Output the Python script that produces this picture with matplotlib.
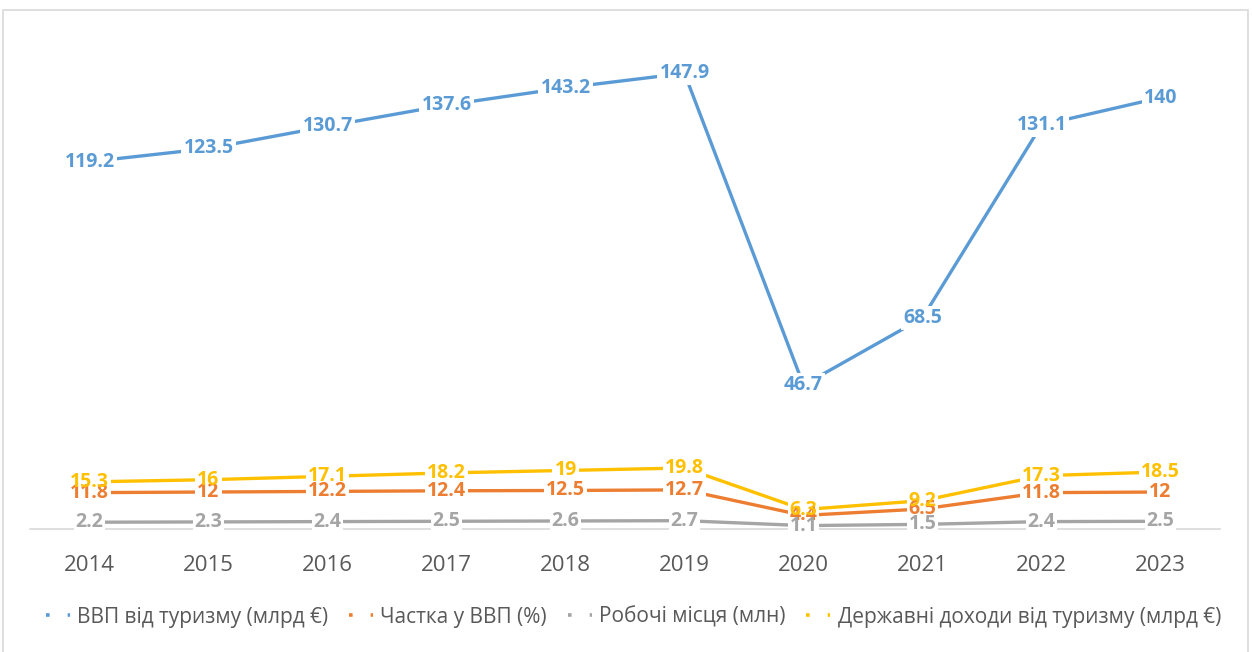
import matplotlib
matplotlib.use("Agg")
import matplotlib.pyplot as plt
from matplotlib.lines import Line2D
from matplotlib.patches import Rectangle

plt.rcParams['font.family'] = ['Open Sans', 'DejaVu Sans']

years = ['2014', '2015', '2016', '2017', '2018', '2019', '2020', '2021', '2022', '2023']
gdp_tourism = [119.2, 123.5, 130.7, 137.6, 143.2, 147.9, 46.7, 68.5, 131.1, 140]
share_gdp = [11.8, 12, 12.2, 12.4, 12.5, 12.7, 4.4, 6.5, 11.8, 12]
jobs = [2.2, 2.3, 2.4, 2.5, 2.6, 2.7, 1.1, 1.5, 2.4, 2.5]
gov_revenue = [15.3, 16, 17.1, 18.2, 19, 19.8, 6.3, 9.2, 17.3, 18.5]

series_names = ['ВВП від туризму (млрд €)', 'Частка у ВВП (%)', 'Робочі місця (млн)',
                'Державні доходи від туризму (млрд €)']
series = [gdp_tourism, share_gdp, jobs, gov_revenue]
colors = ['#5B9BD5', '#ED7D31', '#A5A5A5', '#FFC000']

W, H = 1252, 652
fig = plt.figure(figsize=(W / 100, H / 100), dpi=100)
fig.patches.append(Rectangle((3 / W, -0.1), 1245 / W, 1.1 - 10 / H, transform=fig.transFigure,
                             fill=False, edgecolor='#D9D9D9', linewidth=1.2))

ax = fig.add_axes([30 / W, (H - 529) / H, 1190 / W, (529 - 36) / H])
x = list(range(len(years)))
for vals, c in zip(series, colors):
    ax.plot(x, vals, color=c, linewidth=2.4, solid_capstyle='round', zorder=2)
# white boxes that mask the lines under labels
for vals in series:
    for xi, v in zip(x, vals):
        ax.text(xi, v, f'{v:g}', color='white', fontsize=14, fontweight='bold', ha='center',
                va='center', zorder=3,
                bbox=dict(boxstyle='square,pad=0.1', facecolor='white', edgecolor='none'))
# the labels themselves
for vals, c in zip(series, colors):
    for xi, v in zip(x, vals):
        ax.text(xi, v, f'{v:g}', color=c, fontsize=14, fontweight='bold', ha='center',
                va='center', zorder=4)

ax.set_xlim(-0.5, len(years) - 0.5)
ax.set_ylim(0, 160)
ax.set_xticks(x)
ax.set_xticklabels(years, fontsize=16, color='#595959')
ax.tick_params(axis='x', length=0, pad=19)
ax.set_yticks([])
for s in ['top', 'right', 'left']:
    ax.spines[s].set_visible(False)
ax.spines['bottom'].set_color('#D9D9D9')
ax.spines['bottom'].set_linewidth(1.2)

handles = [Line2D([0], [0], color=c, linewidth=2.6, linestyle=(0, (1, 5))) for c in colors]
fig.legend(handles, series_names, loc='center', bbox_to_anchor=(0.506, (H - 617) / H), ncol=4,
           frameon=False, fontsize=15, handlelength=1.15, handletextpad=0.35, columnspacing=1.0,
           labelcolor='#595959')

fig.savefig('out.png', dpi=100, facecolor='white')
